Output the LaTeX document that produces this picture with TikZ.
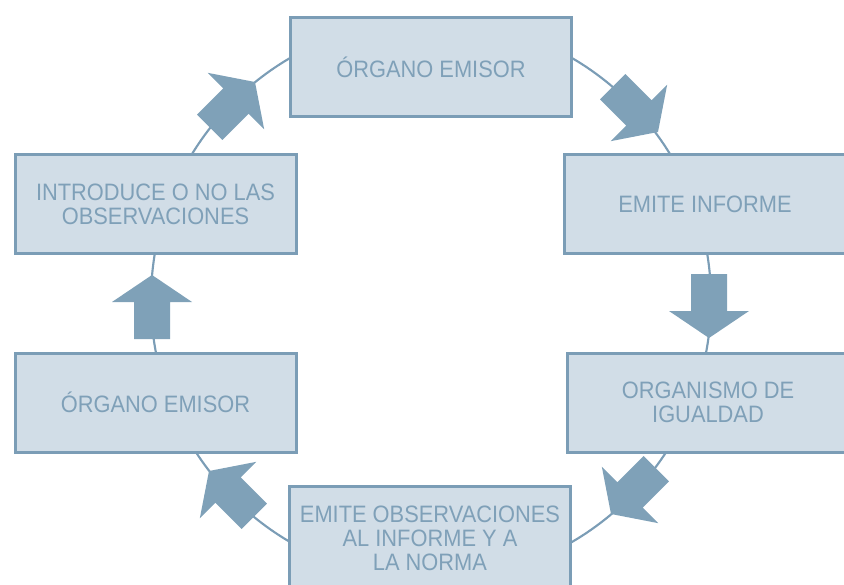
\documentclass[tikz,border=0pt]{standalone}
\usepackage{fontspec}
\setmainfont{Liberation Sans}[FakeStretch=0.92]
\definecolor{boxfill}{HTML}{D1DDE7}
\definecolor{boxline}{HTML}{7B9DB6}
\definecolor{txtcol}{HTML}{7FA0B8}
\definecolor{arrcol}{HTML}{7FA1B8}
\tikzset{
  stagebox/.style={rectangle, draw=boxline, fill=boxfill, line width=2.25pt,
    minimum width=210.75pt, minimum height=74.25pt, inner sep=0pt,
    align=center, text=txtcol, font=\fontsize{17.8}{18}\selectfont},
  ring/.style={draw=boxline, line width=1.6pt},
  bigarrow/.pic={\fill[arrcol] (0,0) -- (-27,40) -- (-27,18) -- (-64,18) -- (-64,-18) -- (-27,-18) -- (-27,-40) -- cycle;}
}
\begin{document}
\begin{tikzpicture}[x=0.75pt,y=-0.75pt]
\useasboundingbox (0,0) rectangle (844,585);
\clip (0,0) rectangle (844,585);
\coordinate (c) at (431,300);
\draw[ring] (c) circle[radius=280];
\node[stagebox] (top) at (431,67) {ÓRGANO EMISOR};
\node[stagebox] (ru) at (705,204.5) {EMITE INFORME};
\node[stagebox] (rl) at (708,402.5) {ORGANISMO DE\\IGUALDAD};
\node[stagebox, minimum height=78pt] (bot) at (430,538) {EMITE OBSERVACIONES\\AL INFORME Y A\\LA NORMA};
\node[stagebox] (ll) at (155.5,402.5) {ÓRGANO EMISOR};
\node[stagebox] (lu) at (155.5,204.5) {INTRODUCE O NO LAS\\OBSERVACIONES};
\pic[rotate=45] at (255,82) {bigarrow};
\pic[rotate=-45] at (658,132) {bigarrow};
\pic[rotate=-90] at (709,338) {bigarrow};
\pic[rotate=-135] at (611,514) {bigarrow};
\pic[rotate=135] at (209,471) {bigarrow};
\pic[rotate=90] at (152,275) {bigarrow};
\end{tikzpicture}
\end{document}
